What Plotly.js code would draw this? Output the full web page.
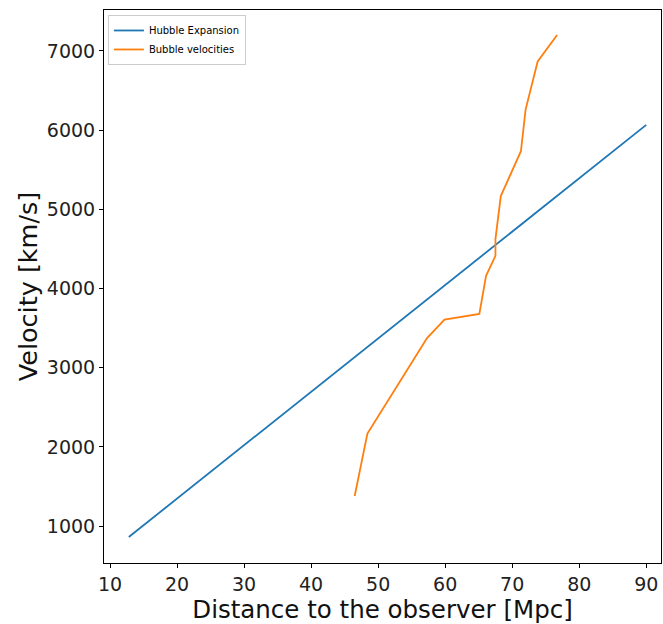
<!DOCTYPE html>
<html>
<head>
<meta charset="utf-8">
<script src="https://cdn.plot.ly/plotly-3.0.1.min.js"></script>
<style>html,body{margin:0;padding:0;background:#fff;}#chart{width:663px;height:624px;}</style>
</head>
<body>
<div id="chart"></div>
<script>
const hubbleDistance = [12.8, 90];
const hubbleVelocity = [863, 6066];
const bubbleDistance = [46.5, 48.4, 57.3, 59.9, 65.1, 66.1, 67.5, 67.5, 68.3, 71.3, 72.0, 73.8, 76.7];
const bubbleVelocity = [1381, 2170, 3374, 3608, 3679, 4161, 4413, 4623, 5167, 5733, 6258, 6866, 7201];
const xTicks = [10, 20, 30, 40, 50, 60, 70, 80, 90];
const yTicks = [1000, 2000, 3000, 4000, 5000, 6000, 7000];

const font = "DejaVu Sans, sans-serif";
const traces = [
  {x: hubbleDistance, y: hubbleVelocity, mode: 'lines', name: 'Hubble Expansion',
   line: {color: '#1f77b4', width: 1.8}},
  {x: bubbleDistance, y: bubbleVelocity, mode: 'lines', name: 'Bubble velocities',
   line: {color: '#ff7f0e', width: 1.8}}
];
const axisCommon = {
  showgrid: false, zeroline: false, showline: true, linecolor: '#000', linewidth: 1, mirror: true,
  ticks: 'outside', ticklen: 4, tickwidth: 1, tickcolor: '#000',
  tickfont: {family: font, size: 19, color: '#222'}
};
const layout = {
  width: 663, height: 624,
  margin: {l: 104, r: 2, t: 10, b: 61},
  paper_bgcolor: '#fff', plot_bgcolor: '#fff',
  font: {family: font},
  xaxis: Object.assign({}, axisCommon, {
    range: [9.1, 92.2], tickvals: xTicks,
    title: {text: 'Distance to the observer [Mpc]', font: {family: font, size: 24.5, color: '#111'}, standoff: 9}
  }),
  yaxis: Object.assign({}, axisCommon, {
    range: [535, 7516], tickvals: yTicks,
    title: {text: 'Velocity [km/s]', font: {family: font, size: 25.5, color: '#111'}, standoff: 1}
  }),
  showlegend: true,
  legend: {x: 0.007, y: 0.991, xanchor: 'left', yanchor: 'top', bgcolor: 'rgba(255,255,255,0.8)',
    bordercolor: '#ccc', borderwidth: 1, font: {family: font, size: 10, color: '#000'},
    tracegroupgap: 0, itemwidth: 30}
};
Plotly.newPlot('chart', traces, layout, {displayModeBar: false, staticPlot: true});
</script>
</body>
</html>
